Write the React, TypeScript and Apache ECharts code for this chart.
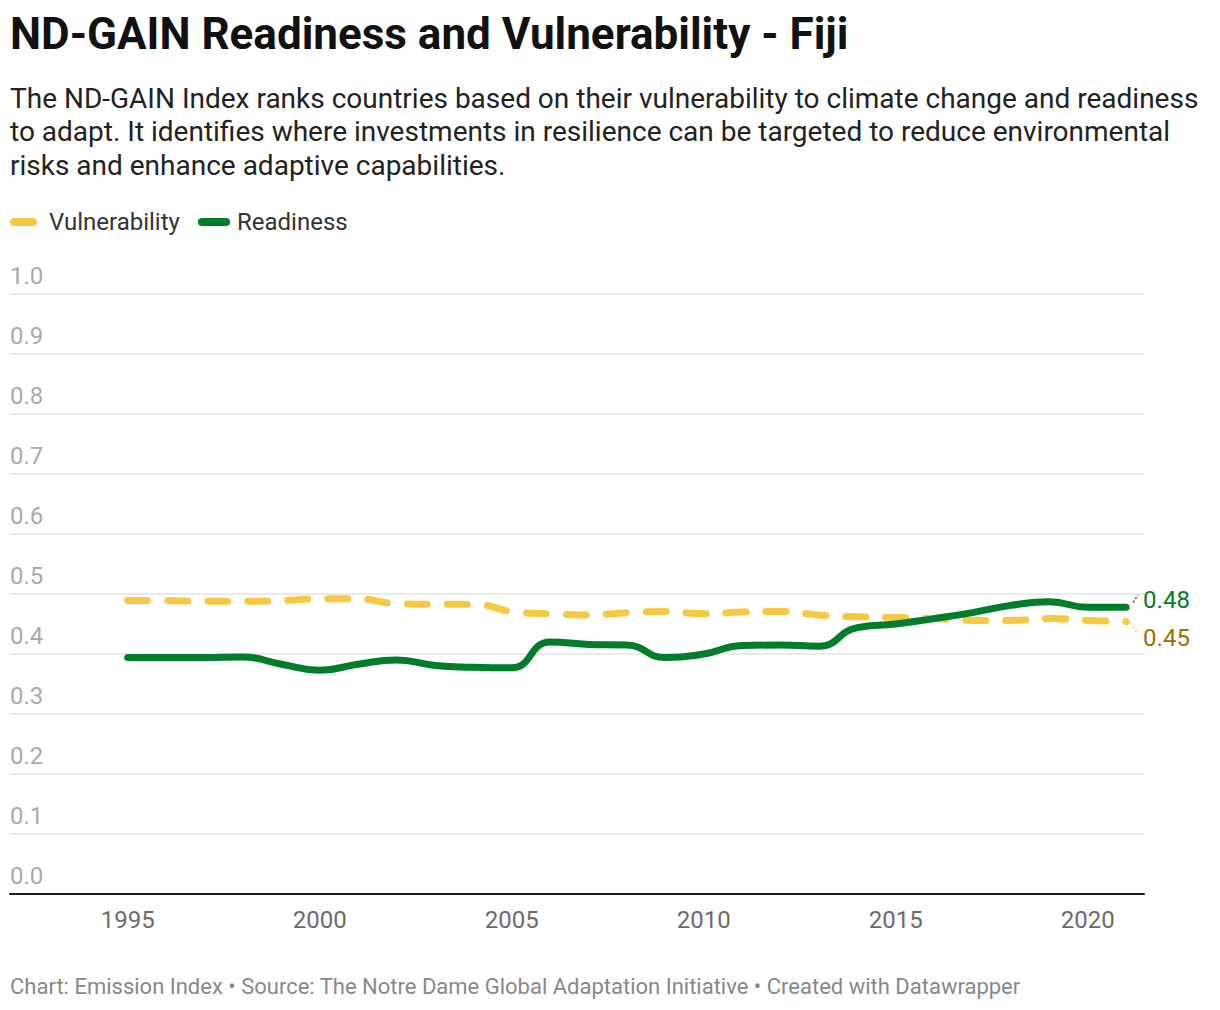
import React, { useEffect, useRef } from "react";
import * as echarts from "echarts";

const years = [
  1995, 1996, 1997, 1998, 1999, 2000, 2001, 2002, 2003, 2004, 2005, 2006, 2007, 2008,
  2009, 2010, 2011, 2012, 2013, 2014, 2015, 2016, 2017, 2018, 2019, 2020, 2021,
];
const readiness = [
  0.394, 0.394, 0.394, 0.395, 0.383, 0.373, 0.383, 0.39, 0.381, 0.378, 0.377, 0.42, 0.416,
  0.415, 0.394, 0.4, 0.414, 0.415, 0.413, 0.444, 0.45, 0.459, 0.469, 0.481, 0.487, 0.478,
  0.478,
];
const vulnerability = [
  0.489, 0.489, 0.488, 0.488, 0.489, 0.492, 0.492, 0.484, 0.483, 0.483, 0.471, 0.467, 0.465,
  0.469, 0.471, 0.467, 0.47, 0.471, 0.465, 0.462, 0.461, 0.459, 0.456, 0.456, 0.459, 0.456,
  0.454,
];
const xTickYears = [1995, 2000, 2005, 2010, 2015, 2020];
const seriesNames = ["Vulnerability", "Readiness"];

const TITLE = "ND-GAIN Readiness and Vulnerability - Fiji";
const SUBTITLE_LINES = [
  "The ND-GAIN Index ranks countries based on their vulnerability to climate change and readiness",
  "to adapt. It identifies where investments in resilience can be targeted to reduce environmental",
  "risks and enhance adaptive capabilities.",
];
const FOOTER =
  "Chart: Emission Index \u2022 Source: The Notre Dame Global Adaptation Initiative \u2022 Created with Datawrapper";

const FONT = "Roboto, sans-serif";
const GREEN = "#007d2a";
const YELLOW = "#f7c843";
const GOLD_LABEL = "#9a7300";

export default function App() {
  const ref = useRef<HTMLDivElement>(null);

  useEffect(() => {
    document.body.style.margin = "0";
    const chart = echarts.init(ref.current as HTMLDivElement, null, { renderer: "svg" });

    const baseGraphic: any[] = [
      {
        type: "text",
        id: "title",
        x: 10,
        y: 34,
        style: {
          text: TITLE,
          fontSize: 44,
          fontWeight: "bold",
          fontFamily: FONT,
          fill: "#111111",
          verticalAlign: "middle",
        },
      },
      ...SUBTITLE_LINES.map((line, i) => ({
        type: "text",
        id: "sub" + i,
        x: 10,
        y: 98 + i * 33.6,
        style: {
          text: line,
          fontSize: 28,
          fontFamily: FONT,
          fill: "#222222",
          verticalAlign: "middle",
        },
      })),
      {
        type: "rect",
        id: "legIcon0",
        shape: { x: 10, y: 218, width: 27, height: 8, r: 4 },
        style: { fill: YELLOW },
      },
      {
        type: "text",
        id: "legText0",
        x: 49,
        y: 222,
        style: {
          text: seriesNames[0],
          fontSize: 24,
          fontFamily: FONT,
          fill: "#333333",
          verticalAlign: "middle",
        },
      },
      {
        type: "rect",
        id: "legIcon1",
        shape: { x: 198, y: 218, width: 32, height: 8, r: 4 },
        style: { fill: GREEN },
      },
      {
        type: "text",
        id: "legText1",
        x: 237,
        y: 222,
        style: {
          text: seriesNames[1],
          fontSize: 24,
          fontFamily: FONT,
          fill: "#333333",
          verticalAlign: "middle",
        },
      },
      {
        type: "text",
        id: "footer",
        x: 10,
        y: 986,
        style: {
          text: FOOTER,
          fontSize: 22,
          fontFamily: FONT,
          fill: "#888888",
          verticalAlign: "middle",
        },
      },
    ];

    const option: any = {
      animation: false,
      backgroundColor: "#ffffff",
      textStyle: { fontFamily: FONT },
      grid: { left: 10, right: 76, top: 294, height: 600, containLabel: false, outerBoundsMode: "none" },
      xAxis: {
        type: "value",
        min: 1991.935,
        max: 2021.466,
        axisLine: { show: true, onZero: true, lineStyle: { color: "#1a1a1a", width: 2 } },
        axisTick: { show: false },
        splitLine: { show: false },
        axisLabel: {
          customValues: xTickYears,
          color: "#6b6b6b",
          fontSize: 24,
          fontFamily: FONT,
          margin: 14,
          formatter: (v: number) => String(v),
        },
      },
      yAxis: {
        type: "value",
        min: 0,
        max: 1,
        interval: 0.1,
        axisLine: { show: false },
        axisTick: { show: false },
        splitLine: { show: true, lineStyle: { color: "#e3e3e3", width: 1.5 } },
        axisLabel: {
          inside: true,
          margin: 0,
          color: "#aaaaaa",
          fontSize: 24,
          fontFamily: FONT,
          verticalAlign: "bottom",
          padding: [0, 0, 6, 0],
          formatter: (v: number) => v.toFixed(1),
        },
      },
      series: [
        {
          name: seriesNames[0],
          type: "line",
          data: years.map((y, i) => [y, vulnerability[i]]),
          smooth: 0.5,
          showSymbol: false,
          symbol: "none",
          lineStyle: { color: YELLOW, width: 7, type: [20, 20], cap: "round", join: "round" },
          endLabel: {
            show: true,
            formatter: (p: any) => p.value[1].toFixed(2),
            color: GOLD_LABEL,
            fontSize: 24,
            fontFamily: FONT,
            offset: [9, 16],
          },
          z: 2,
        },
        {
          name: seriesNames[1],
          type: "line",
          data: years.map((y, i) => [y, readiness[i]]),
          smooth: 0.5,
          showSymbol: false,
          symbol: "none",
          lineStyle: { color: GREEN, width: 7, cap: "round", join: "round" },
          endLabel: {
            show: true,
            formatter: (p: any) => p.value[1].toFixed(2),
            color: GREEN,
            fontSize: 24,
            fontFamily: FONT,
            offset: [9, -7],
          },
          z: 3,
        },
      ],
      graphic: baseGraphic,
    };

    chart.setOption(option);

    const last = years.length - 1;
    const gEnd = chart.convertToPixel({ gridIndex: 0 }, [years[last], readiness[last]]) as number[];
    const yEnd = chart.convertToPixel({ gridIndex: 0 }, [years[last], vulnerability[last]]) as number[];
    if (gEnd && yEnd) {
      chart.setOption({
        graphic: [
          ...baseGraphic,
          {
            type: "line",
            id: "connG",
            shape: { x1: gEnd[0] + 7, y1: gEnd[1] - 5, x2: gEnd[0] + 12, y2: gEnd[1] - 12 },
            style: { stroke: GREEN, lineWidth: 1.5, lineDash: [2, 2] },
          },
          {
            type: "line",
            id: "connY",
            shape: { x1: yEnd[0] + 7, y1: yEnd[1] + 5, x2: yEnd[0] + 12, y2: yEnd[1] + 12 },
            style: { stroke: YELLOW, lineWidth: 1.5, lineDash: [2, 2] },
          },
        ],
      });
    }

    return () => chart.dispose();
  }, []);

  return <div ref={ref} style={{ width: 1220, height: 1010 }} />;
}
